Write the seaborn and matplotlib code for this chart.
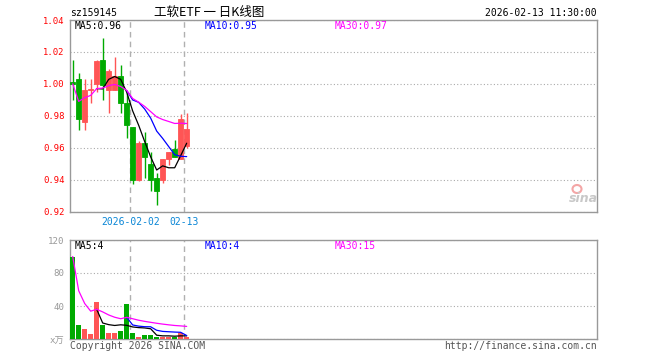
import numpy as np
import pandas as pd
import matplotlib
matplotlib.use("Agg")
import matplotlib.pyplot as plt
from matplotlib.patches import Ellipse
import seaborn as sns

# daily K-line data for sz159145, 2026-01-19 .. 2026-02-13
dates = ["2026-01-19", "2026-01-20", "2026-01-21", "2026-01-22", "2026-01-23",
         "2026-01-26", "2026-01-27", "2026-01-28", "2026-01-29", "2026-01-30",
         "2026-02-02", "2026-02-03", "2026-02-04", "2026-02-05", "2026-02-06",
         "2026-02-09", "2026-02-10", "2026-02-11", "2026-02-12", "2026-02-13"]
opens = [1.001, 1.003, 0.976, 0.996, 1.000, 1.015, 0.996, 0.996, 1.005, 0.988,
         0.973, 0.940, 0.963, 0.950, 0.941, 0.940, 0.953, 0.959, 0.953, 0.961]
closes = [1.000, 0.978, 0.996, 0.997, 1.014, 0.999, 1.008, 1.005, 0.988, 0.974,
          0.940, 0.963, 0.954, 0.940, 0.933, 0.953, 0.957, 0.954, 0.978, 0.972]
highs = [1.015, 1.007, 1.003, 1.003, 1.015, 1.029, 1.009, 1.017, 1.012, 0.994,
         0.973, 0.964, 0.970, 0.957, 0.944, 0.953, 0.957, 0.965, 0.981, 0.982]
lows = [0.990, 0.971, 0.971, 0.988, 0.995, 0.990, 0.982, 0.996, 0.982, 0.966,
        0.937, 0.939, 0.941, 0.933, 0.924, 0.938, 0.949, 0.954, 0.953, 0.960]
volumes = [100, 17, 12, 6, 45, 17, 7, 7, 10, 42, 7, 3, 5, 5, 3, 3, 3, 3, 7, 3]  # x万

price_ticks = [0.92, 0.94, 0.96, 0.98, 1.00, 1.02, 1.04]
vol_ticks = [0, 40, 80, 120]
vol_tick_labels = ["x万", "40", "80", "120"]
date_ticks = ["2026-02-02", "2026-02-13"]
date_tick_labels = ["2026-02-02", "02-13"]

price_ma_labels = ["MA5:0.96", "MA10:0.95", "MA30:0.97"]
vol_ma_labels = ["MA5:4", "MA10:4", "MA30:15"]

RED = "#ff5555"
GREEN = "#00aa00"
MA_COLORS = ["#000000", "#0000ff", "#ff00ff"]
GREY = "#999999"
BLUE_TXT = "#0a86d6"

sns.set_theme(style="white")
plt.rcParams["font.family"] = ["DejaVu Sans Mono", "Noto Sans CJK SC"]

df = pd.DataFrame({"date": dates, "open": opens, "close": closes,
                   "high": highs, "low": lows, "vol": volumes})
df["idx"] = np.arange(len(df))
df["color"] = np.where(df["close"] >= df["open"], RED, GREEN)
for col in ["close", "vol"]:
    df[f"{col}_ma5"] = df[col].rolling(5).mean()
    df[f"{col}_ma10"] = df[col].rolling(10).mean()
    df[f"{col}_ma30"] = df[col].rolling(30, min_periods=1).mean()

W, H = 660, 360
fig = plt.figure(figsize=(W / 100, H / 100), dpi=100)
ax = fig.add_axes([70 / W, 1 - 211.5 / H, 527 / W, 191.5 / H])
axv = fig.add_axes([70 / W, 1 - 339 / H, 527 / W, 99 / H])

# candles
ax.vlines(df["idx"], df["low"], df["high"], colors=df["color"], lw=1, zorder=3)
body_lo = df[["open", "close"]].min(axis=1)
body_h = (df["close"] - df["open"]).abs()
ax.bar(df["idx"], body_h, bottom=body_lo, width=0.78, color=df["color"],
       edgecolor=df["color"], linewidth=0.6, zorder=4)

# volume bars
axv.bar(df["idx"], df["vol"], width=0.8, color=df["color"], linewidth=0, zorder=3)

# moving averages
for a, col in [(ax, "close"), (axv, "vol")]:
    for n, c in zip([5, 10, 30], MA_COLORS):
        sns.lineplot(x=df["idx"], y=df[f"{col}_ma{n}"], color=c, lw=0.9, ax=a, zorder=5)

date_pos = [dates.index(d) - 0.38 for d in date_ticks]
for a in (ax, axv):
    a.set_xlim(-0.45, 87.4)
    a.set_xlabel("")
    a.set_ylabel("")
    for s in a.spines.values():
        s.set_color(GREY)
        s.set_linewidth(1)
    a.yaxis.grid(True, ls=(0, (1, 2)), color="#aaaaaa", lw=0.8)
    a.xaxis.grid(False)
    for xp in date_pos:
        a.axvline(xp, color="#b0b0b0", ls=(0, (4, 3)), lw=1, zorder=1)
    a.tick_params(length=0)

ax.set_ylim(0.92, 1.04)
ax.set_yticks(price_ticks)
ax.set_yticklabels([f"{t:.2f}" for t in price_ticks], color="red", fontsize=6.4)
ax.tick_params(axis="y", pad=4)
ax.set_xticks(date_pos)
ax.set_xticklabels(date_tick_labels, color=BLUE_TXT, fontsize=7)
ax.tick_params(axis="x", pad=4)

axv.set_ylim(0, 120)
axv.set_yticks(vol_ticks)
axv.set_yticklabels(vol_tick_labels, color=GREY, fontsize=6.6)
axv.tick_params(axis="y", pad=4)
axv.set_xticks([])


def ftxt(x, y, s, **kw):
    fig.text(x / W, 1 - y / H, s, va="center", **kw)


ftxt(70, 13, "sz159145", color="black", fontsize=7)
ftxt(209, 12, "工软ETF 一 日K线图", ha="center", color="black", fontsize=9,
     family=["Noto Sans CJK SC", "DejaVu Sans"])
ftxt(597, 13, "2026-02-13 11:30:00", ha="right", color="black", fontsize=7)
for xpos, lab, c in zip([75, 205, 335], price_ma_labels, MA_COLORS):
    ftxt(xpos, 26, lab, color=c, fontsize=7)
for xpos, lab, c in zip([75, 205, 335], vol_ma_labels, MA_COLORS):
    ftxt(xpos, 246, lab, color=c, fontsize=7)
ftxt(70, 346, "Copyright 2026 SINA.COM", color="#555555", fontsize=7)
ftxt(597, 346, "http://finance.sina.com.cn", ha="right", color="#555555", fontsize=7)

# sina watermark
ftxt(583, 199, "sina", ha="center", color="#c8c8c8", fontsize=9, fontstyle="italic",
     fontweight="bold", family="DejaVu Sans")
fig.add_artist(Ellipse((577 / W, 1 - 189 / H), 9 / W, 8 / H, facecolor="none",
                       edgecolor="#f4a6a6", lw=1.5, transform=fig.transFigure))

fig.savefig("out.png", dpi=100)
